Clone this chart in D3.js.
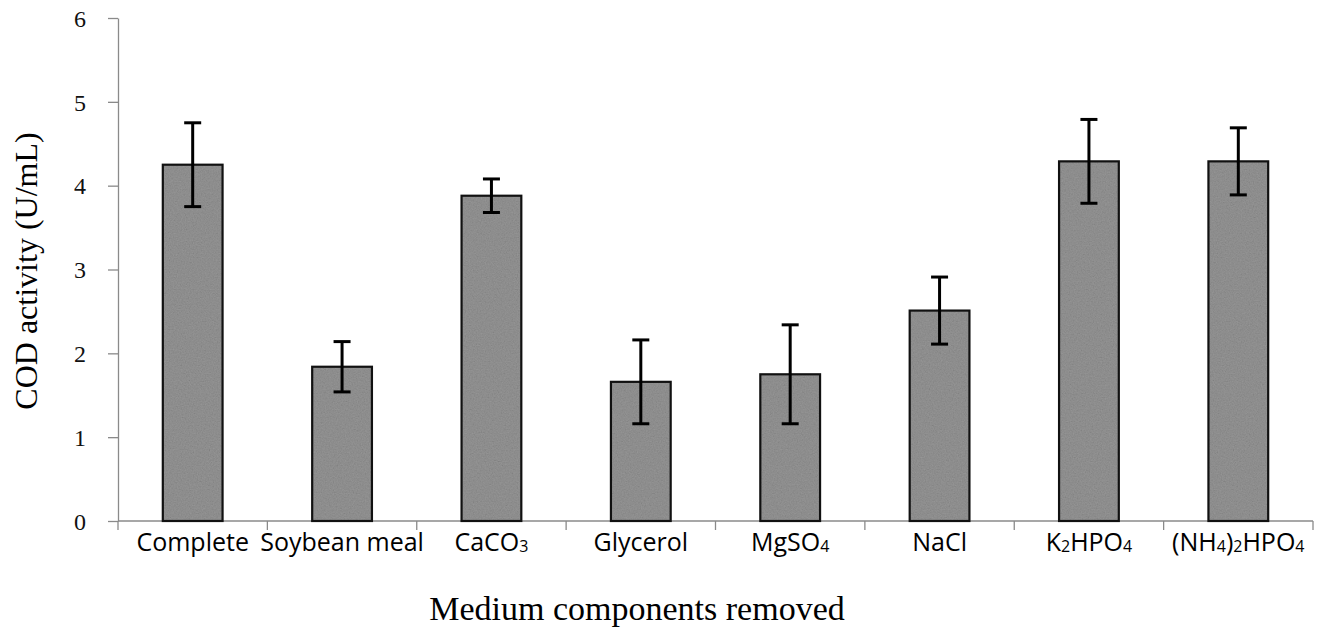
<!DOCTYPE html>
<html>
<head>
<meta charset="utf-8">
<script src="https://cdn.jsdelivr.net/npm/d3@7"></script>
<style>
  html, body { margin: 0; padding: 0; background: #fff; }
  svg { display: block; }
</style>
</head>
<body>
<script>
// COD activity after removing each medium component (mean ± error)
const categories = ["Complete", "Soybean meal", "CaCO3", "Glycerol", "MgSO4", "NaCl", "K2HPO4", "(NH4)2HPO4"];
const activity   = [4.25, 1.84, 3.88, 1.66, 1.75, 2.51, 4.29, 4.29];
const errors     = [0.50, 0.30, 0.20, 0.50, 0.59, 0.40, 0.50, 0.40];
const yTicks     = [0, 1, 2, 3, 4, 5, 6];

// Label pieces: [text, isSubscript]
const labelParts = {
  "Complete":     [["Complete", false]],
  "Soybean meal": [["Soybean meal", false]],
  "CaCO3":        [["CaCO", false], ["3", true]],
  "Glycerol":     [["Glycerol", false]],
  "MgSO4":        [["MgSO", false], ["4", true]],
  "NaCl":         [["NaCl", false]],
  "K2HPO4":       [["K", false], ["2", true], ["HPO", false], ["4", true]],
  "(NH4)2HPO4":   [["(NH", false], ["4", true], [")", false], ["2", true], ["HPO", false], ["4", true]]
};

const W = 1317, H = 630;
const svg = d3.select("body").append("svg").attr("width", W).attr("height", H);

// Speckled texture for the bar fill
const defs = svg.append("defs");
const f = defs.append("filter").attr("id", "grain")
  .attr("x", 0).attr("y", 0).attr("width", "100%").attr("height", "100%");
f.append("feTurbulence").attr("type", "fractalNoise").attr("baseFrequency", 0.75)
  .attr("numOctaves", 2).attr("seed", 4).attr("result", "n");
f.append("feColorMatrix").attr("in", "n").attr("type", "matrix")
  .attr("values", "0.33 0.33 0.33 0 0  0.33 0.33 0.33 0 0  0.33 0.33 0.33 0 0  0 0 0 0 0.22");

const x = d3.scaleBand().domain(categories).range([118, 1313]).padding(0);
const y = d3.scaleLinear().domain([0, 6]).range([521, 18]);

const axisColor = "#8a8a8a";

// Y axis
const gy = svg.append("g").attr("transform", "translate(118,0)")
  .call(d3.axisLeft(y).tickValues(yTicks).tickFormat(d3.format("d"))
    .tickSize(10).tickPadding(22).tickSizeOuter(0));
gy.select(".domain").attr("stroke", axisColor).attr("stroke-width", 1.3);
gy.selectAll(".tick line").attr("stroke", axisColor).attr("stroke-width", 1.3);
gy.selectAll(".tick text")
  .attr("font-family", "'Liberation Serif', 'Times New Roman', serif")
  .attr("font-size", 24).attr("fill", "#111").attr("dy", "0.34em");

// X axis line and category boundary ticks
const gx = svg.append("g").attr("transform", "translate(0,521)");
gx.append("line").attr("x1", 118).attr("x2", 1313).attr("y1", 0).attr("y2", 0)
  .attr("stroke", axisColor).attr("stroke-width", 1.3);
const bounds = categories.map(c => x(c)).concat([x.range()[1]]);
gx.selectAll("line.b").data(bounds).enter().append("line").attr("class", "b")
  .attr("x1", d => d).attr("x2", d => d).attr("y1", 0).attr("y2", 9)
  .attr("stroke", axisColor).attr("stroke-width", 1.3);

// Bars
const bw = x.bandwidth() * 0.4;
const bars = svg.append("g");
categories.forEach((c, i) => {
  const cx = x(c) + x.bandwidth() / 2;
  const top = y(activity[i]);
  const h = y(0) - top;
  bars.append("rect").attr("x", cx - bw / 2).attr("y", top).attr("width", bw).attr("height", h)
    .attr("fill", "#808080");
  bars.append("rect").attr("x", cx - bw / 2).attr("y", top).attr("width", bw).attr("height", h)
    .attr("fill", "#fff").attr("filter", "url(#grain)");
  bars.append("rect").attr("x", cx - bw / 2).attr("y", top).attr("width", bw).attr("height", h)
    .attr("fill", "none").attr("stroke", "#111").attr("stroke-width", 2.2);
});

// Error bars
const eb = svg.append("g").attr("stroke", "#000").attr("stroke-width", 3);
categories.forEach((c, i) => {
  const cx = x(c) + x.bandwidth() / 2;
  const hi = y(activity[i] + errors[i]);
  const lo = y(activity[i] - errors[i]);
  eb.append("line").attr("x1", cx).attr("x2", cx).attr("y1", hi).attr("y2", lo);
  eb.append("line").attr("x1", cx - 8.5).attr("x2", cx + 8.5).attr("y1", hi).attr("y2", hi);
  eb.append("line").attr("x1", cx - 8.5).attr("x2", cx + 8.5).attr("y1", lo).attr("y2", lo);
});

// Category labels with subscripts
const lab = svg.append("g")
  .attr("font-family", "'Open Sans', 'DejaVu Sans', sans-serif")
  .attr("font-size", 25).attr("fill", "#000");
categories.forEach(c => {
  const t = lab.append("text").attr("x", x(c) + x.bandwidth() / 2).attr("y", 551)
    .attr("text-anchor", "middle");
  labelParts[c].forEach(([s, sub]) => {
    t.append("tspan").text(s)
      .attr("font-size", sub ? 16 : 25)
      .attr("baseline-shift", sub ? "-1" : null);
  });
});

// Axis titles
svg.append("text")
  .attr("transform", "translate(37,271) rotate(-90)")
  .attr("text-anchor", "middle")
  .attr("font-family", "'Liberation Serif', 'Times New Roman', serif")
  .attr("font-size", 32).attr("fill", "#000")
  .text("COD activity (U/mL)");

svg.append("text")
  .attr("x", 637).attr("y", 620)
  .attr("text-anchor", "middle")
  .attr("font-family", "'Liberation Serif', 'Times New Roman', serif")
  .attr("font-size", 34).attr("fill", "#000")
  .text("Medium components removed");
</script>
</body>
</html>
